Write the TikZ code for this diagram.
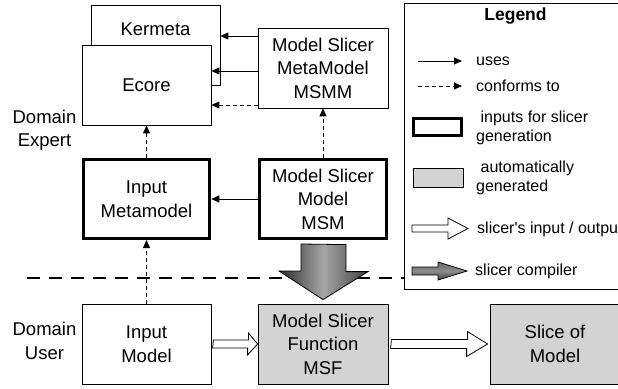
\documentclass[tikz,border=0pt]{standalone}
\usepackage{fontspec}
\setmainfont{Liberation Sans}
\usetikzlibrary{arrows.meta,calc}
\definecolor{autogray}{RGB}{211,211,211}
\begin{document}
\begin{tikzpicture}[x=1pt,y=-1pt,
  font=\fontsize{18.5}{23.5}\selectfont,
  box/.style={draw,line width=0.8pt,fill=white,minimum width=129pt,minimum height=80pt,align=center,inner sep=0pt},
  inbox/.style={box,line width=3pt,minimum width=126.5pt,minimum height=79pt},
  genbox/.style={box,fill=autogray,minimum width=130pt},
  uses/.style={draw,line width=0.9pt,-{Triangle[length=8pt,width=7pt]}},
  conforms/.style={uses,dash pattern=on 4pt off 3pt},
  hollow/.style={draw,line width=0.8pt,fill=white,line join=miter},
  bigarrow/.style={draw,line width=0.8pt,left color=black!82,right color=black!75,middle color=black!35},
  darkarrow/.style={draw,line width=0.8pt,top color=black!60,bottom color=black!75,middle color=black!45},
  leg/.style={font=\fontsize{16}{19}\selectfont,anchor=west,align=left,inner sep=0pt}
]
\useasboundingbox (0,0) rectangle (618,388);

% boxes
\node[box] (kermeta) at (155.5,45) {};
\node (kermetatext) at ($(kermeta.north)+(0,25)$) {Kermeta};
\node[box] (ecore) at (146.5,85) {Ecore};
\node[box,minimum width=130pt] (msmm) at (323,68) {Model Slicer\\MetaModel\\MSMM};
\node[inbox] (inmm) at (146.5,199) {Input\\Metamodel};
\node[inbox,minimum width=127.5pt] (msm) at (323,199) {Model Slicer\\Model\\MSM};
\node[box] (inmodel) at (146.5,344) {Input\\Model};
\node[genbox] (msf) at (323,344) {Model Slicer\\Function\\MSF};
\node[genbox] (slice) at (555,344) {Slice of\\Model};

% side labels
\node[align=center] (expert) at (44.5,130) {Domain\\Expert};
\node[align=center] (user) at (44.5,341) {Domain\\User};

% connectors
\draw[uses] (msmm.west |- 0,36) -- (kermeta.east |- 0,36);
\draw[uses] (msmm.west |- 0,71) -- (ecore.east |- 0,71);
\draw[conforms] (msmm.west |- 0,105) -- (ecore.east |- 0,105);
\draw[uses] (msm.west) -- (inmm.east);
\draw[conforms] (inmm.north) -- (ecore.south);
\draw[conforms] (msm.north) -- (msmm.south);
\draw[conforms] (inmodel.north) -- (inmm.south);

% divider
\draw[line width=2.5pt,dash pattern=on 13pt off 9pt] (27,278) -- (404,278);

% slicer compiler arrow
\draw[bigarrow] ($(msm.south)+(-22,4)$) -- ++(0,27) -- ++(-22,0) -- ($(msf.north)+(0,-4)$) -- ++(45,-28) -- ++(-22,0) -- ++(0,-27) -- cycle;

% slicer input / output arrows
\draw[hollow] (inmodel.east) ++(2,-4) -- ++(35,0) -- ++(0,-7) -- (msf.west) -- ++(-10,11) -- ++(0,-7) -- ++(-35,0) -- cycle;
\draw[hollow] (msf.east) ++(3,-4.5) -- ++(76,0) -- ++(0,-8) -- ($(slice.west)+(-2,0)$) -- ++(-21,12.5) -- ++(0,-8) -- ++(-76,0) -- cycle;

% legend
\draw[line width=0.8pt] (404,3) rectangle (640,289);
\node[font=\bfseries\fontsize{17.5}{20}\selectfont] (legtitle) at (515.5,16) {Legend};
\draw[uses] (418,61) -- (462,61);
\node[leg] (leguses) at (476,61) {uses};
\draw[conforms] (418,86) -- (462,86);
\node[leg] (legconf) at (476,86) {conforms to};
\draw[line width=3pt] (413.5,118.5) rectangle (461.5,135.5);
\node[leg] (leginputs) at (476,127.5) {\ inputs for slicer\\generation};
\draw[line width=0.8pt,fill=autogray] (413,168) rectangle (463,187);
\node[leg] (legauto) at (476,178) {\ automatically\\generated};
\draw[hollow] (412,225) -- (448,225) -- (448,218) -- (468,228.5) -- (448,239) -- (448,232) -- (412,232) -- cycle;
\node[leg] (legio) at (477,229) {slicer\textquotesingle s input / output};
\draw[darkarrow] (412,267) -- (438,267) -- (438,262) -- (467,271) -- (438,280) -- (438,275) -- (412,275) -- cycle;
\node[leg] (legcomp) at (475,271) {slicer compiler};
\end{tikzpicture}
\end{document}
